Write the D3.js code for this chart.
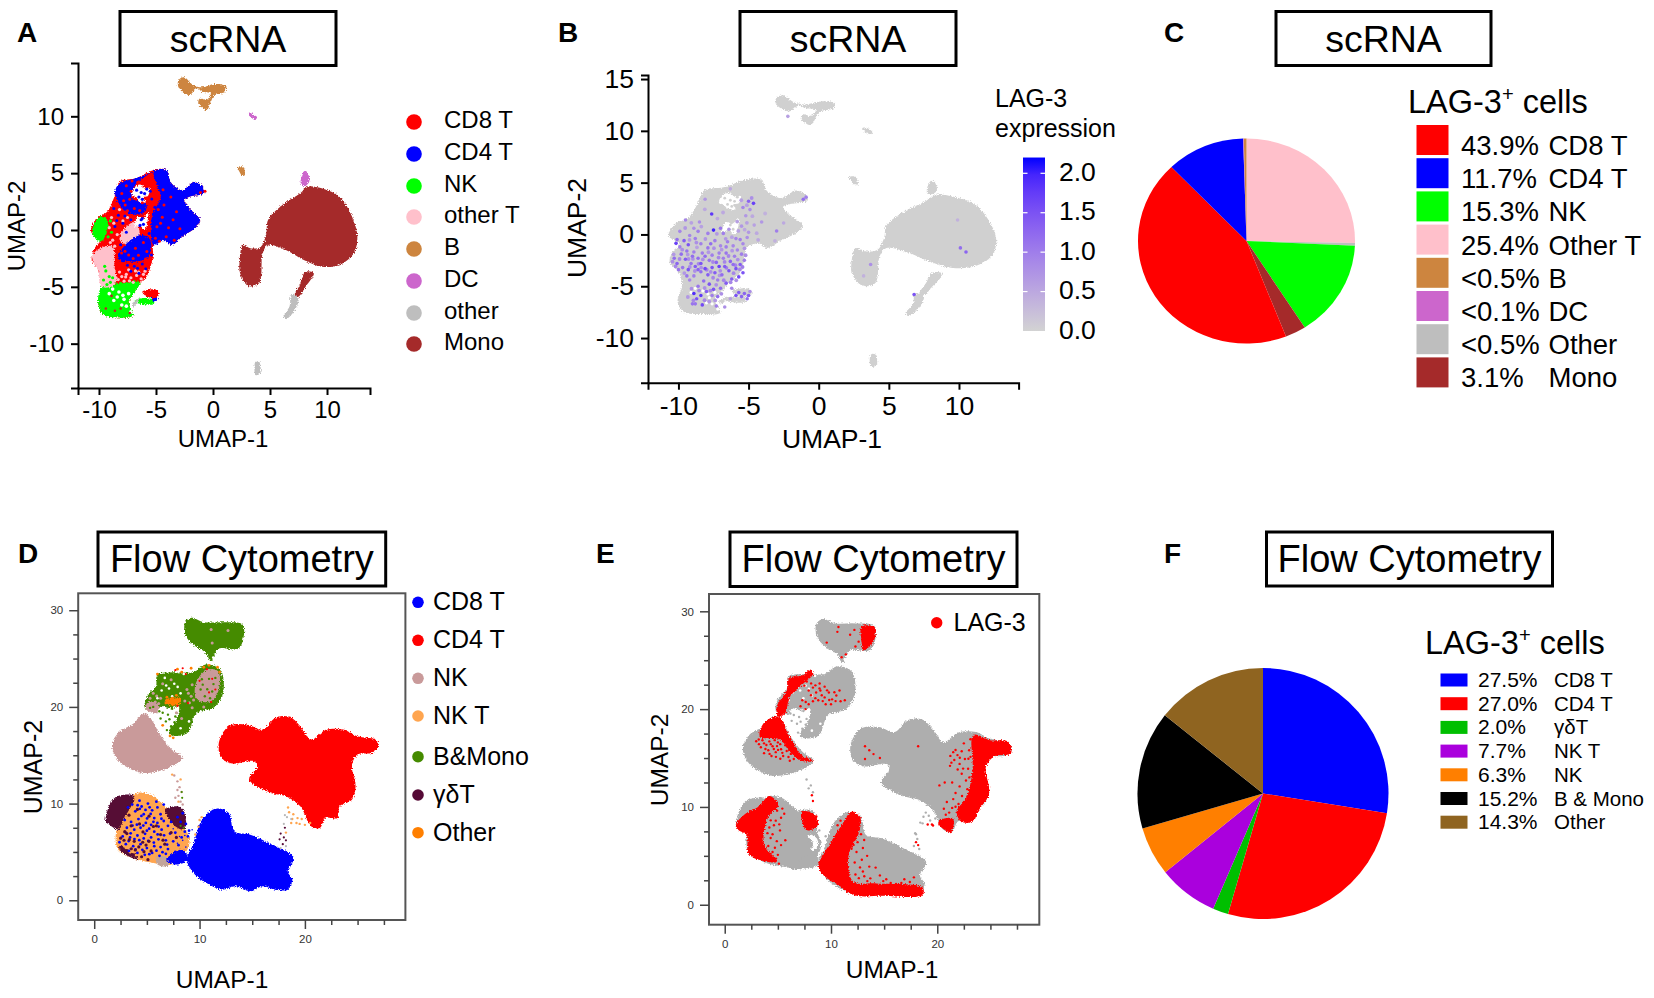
<!DOCTYPE html>
<html><head><meta charset="utf-8">
<script src="https://cdn.jsdelivr.net/npm/d3@7"></script>
<style>html,body{margin:0;background:#fff}svg{display:block;font-family:"Liberation Sans",Arial,sans-serif}</style>
</head><body><svg id="c" width="1654" height="998"></svg>
<script>
// ---------- scRNA legend + pie ----------
const scCategories=["CD8 T","CD4 T","NK","other T","B","DC","other","Mono"];
const scColors=["#ff0000","#0000ff","#00ff00","#ffc0cb","#cd853f","#cc66cc","#bebebe","#a52a2a"];
const scPieLabels=["43.9%","11.7%","15.3%","25.4%","<0.5%","<0.1%","<0.5%","3.1%"];
const scPieNames=["CD8 T","CD4 T","NK","Other T","B","DC","Other","Mono"];
const scPieOrder=[3,6,2,7,0,1,5,4];
const scPieValues=[43.9,11.7,15.3,25.4,0.4,0.1,0.4,3.1];
// ---------- flow legend + pie ----------
const flowCategories=["CD8 T","CD4 T","NK","NK T","B&Mono","γδT","Other"];
const flowColors=["#0000ff","#ff0000","#c99a9a","#ffa54f","#458b00","#560a36","#ff7f00"];
const flowPieLabels=["27.5%","27.0%","2.0%","7.7%","6.3%","15.2%","14.3%"];
const flowPieNames=["CD8 T","CD4 T","γδT","NK T","NK","B & Mono","Other"];
const flowPieValues=[27.5,27.0,2.0,7.7,6.3,15.2,14.3];
const flowPieColors=["#0000ff","#ff0000","#00bf00","#aa00dd","#ff7f00","#000000","#8f6420"];
// ---------- scRNA UMAP outlines (UMAP-1, UMAP-2) ----------
const tCellOutline=[[-8.18,4.25],[-6.77,4.55],[-5.2,5.28],[-4.11,5.28],[-3.64,4.11],[-2.7,3.52],[-1.6,4.25],[-.82,3.67],[-.82,3.23],[-2.07,2.93],[-2.54,2.64],[-2.07,1.91],[-1.13,.88],[-1.44,.29],[-2.7,-.59],[-3.64,-1.32],[-4.26,-.88],[-5.2,-1.32],[-5.27,-2.35],[-5.83,-4.11],[-6.46,-4.69],[-6.93,-5.57],[-7.4,-6.3],[-7.02,-7.57],[-8.34,-7.68],[-9.59,-7.48],[-10.06,-6.51],[-9.75,-4.99],[-9.91,-3.81],[-10.63,-2.64],[-10.38,-1.61],[-9.91,-.94],[-10.69,-.15],[-10.22,1.03],[-9.28,1.61],[-8.65,2.93]];
const greenBottom=[[-9.75,-4.99],[-8.03,-4.69],[-6.46,-4.55],[-6.93,-5.57],[-7.4,-6.3],[-7.02,-7.57],[-8.34,-7.68],[-9.59,-7.48],[-10.06,-6.51]];
const greenLeft=[[-10.38,.59],[-9.91,1.17],[-9.28,.88],[-9.44,-.59],[-9.91,-1.03],[-10.6,-.29]];
const pinkLeft=[[-10.6,-2.35],[-9.91,-1.61],[-8.81,-1.47],[-8.71,-3.23],[-9.28,-3.96],[-10.06,-3.52]];
const pinkMid=[[-9.9,-3.5],[-8.75,-3.2],[-8.6,-4.8],[-9.75,-5.0]];
const pinkCenter=[[-7.87,0],[-6.77,.73],[-6.46,-.44],[-7.4,-1.32],[-8.18,-.88]];
const blueRight=[[-5.2,5.13],[-4.11,5.28],[-3.64,4.11],[-2.7,3.52],[-1.6,4.25],[-.82,3.67],[-.82,3.23],[-2.07,2.93],[-2.54,2.64],[-2.07,1.91],[-1.13,.88],[-1.44,.29],[-2.7,-.59],[-3.64,-1.32],[-4.26,-.88],[-5.2,-1.32],[-5.36,1.17],[-4.58,2.93],[-4.9,3.9]];
const blueLeftTop=[[-8.18,4.11],[-6.77,4.55],[-5.2,5.13],[-5.99,4.69],[-6.93,3.81],[-7.08,2.79],[-5.83,2.2],[-6.14,1.47],[-7.4,1.47],[-8.18,2.2],[-8.59,3.37]];
const blueLower=[[-7.55,-1.17],[-6.3,-.44],[-5.49,-.88],[-5.67,-2.35],[-6.77,-2.79],[-8.34,-2.49]];
const scHoles=[[[-6.93,3.7],[-6.4,4],[-5.9,3.6],[-5.55,3.75],[-5.7,3],[-6.1,2.9],[-5.9,2.45],[-6.5,2.5],[-6.8,2.9],[-7.1,3]],[[-6.6,1.2],[-6.2,1],[-5.7,1.5],[-5.75,.7],[-6,0],[-6.4,.4],[-6.9,.3],[-6.8,.8]]];
const smallGreen=[[-6.93,-6.3],[-6.3,-6.01],[-5.2,-6.16],[-5.2,-6.51],[-6.3,-6.51]];
const smallRed=[[-6.2,-5.43],[-4.89,-5.28],[-4.82,-5.87],[-5.67,-5.92]];
const smallBlue=[[-5.3,-5.65],[-4.9,-5.6],[-4.9,-6.2],[-5.3,-6.2]];
const smallOther=[[-7.1,-6.5],[-6.5,-6.0],[-6.6,-6.3],[-7.0,-6.75]];
const monoMain=[[4.83,.88],[6.08,2.2],[7.65,3.23],[8.28,3.81],[9.53,3.67],[11.1,2.93],[12.2,1.17],[12.66,-.59],[12.35,-2.05],[11.1,-3.08],[9.53,-3.23],[7.96,-2.64],[6.39,-1.76],[4.83,-1.32],[4.36,-2.05],[4.04,-4.69],[3.1,-4.93],[2.38,-3.81],[2.32,-2.93],[2.63,-1.32],[3.26,-1.61],[4.2,-1.47],[4.67,-.29]];
const monoTail=[[8.12,-3.67],[8.84,-3.81],[8.12,-5],[7.49,-5.87],[7.18,-5.72],[7.65,-4.69]];
const otherTail=[[6.87,-5.72],[7.49,-6],[7.18,-7.04],[6.39,-7.86],[6.18,-7.62],[6.71,-6.74]];
const otherBottom=[[3.73,-11.58],[4.04,-11.58],[4.14,-12.6],[3.73,-12.76],[3.64,-12.02]];
const bCellTop=[[-3.01,13.2],[-2.54,13.43],[-1.76,12.76],[-.97,12.55],[.13,12.84],[1.13,12.67],[1.07,12.17],[.13,11.88],[-.19,11.29],[-.56,10.56],[-1.29,11.2],[-1.13,11.58],[-.56,11.44],[-.19,12.02],[-.97,12.17],[-1.38,12.46],[-2.07,11.88],[-2.7,12.17],[-3.07,12.67]];
const bCellSmall=[[2.16,5.51],[2.63,5.57],[2.79,4.84],[2.57,4.75],[2.32,5.13]];
const dcTop=[[3.1,10.26],[3.32,10.32],[3.82,9.91],[3.73,9.68],[3.26,9.97]];
const dcNeck=[[7.96,5.13],[8.21,5.13],[8.43,4.25],[7.96,3.87],[7.71,4.11]];
// ---------- scRNA single cells ----------
const redInBlue=[[-4.8,1.8],[-4.3,2.2],[-4.6,.6],[-3.9,.2],[-4.1,-.6],[-3.2,1.6],[-3.5,.9],[-2.9,.1],[-.7,3.4],[-1.1,3.3],[-4.9,3.1],[-3.7,2.9],[-7.6,3.9],[-8,3.2],[-7.3,2.7],[-7.7,2.2],[-6.9,1.9],[-7.5,1.7],[-6.6,4.2],[-7.1,4.3],[-6.2,2.4],[-6.1,-1.1],[-6.8,-1.6],[-7.4,-2.2],[-5.8,-1.9],[-7,-2.5],[-5.5,.1],[-4.7,-1],[-3.4,-.9],[-4.45,1.12],[-4.92,.28],[-5.05,-.72],[-4.38,3.55],[-7.84,2.58],[-6.43,1.72],[-7.18,3.41],[-6.54,-2.22],[-7.72,-1.88],[-5.92,-2.56],[-8.02,-2.03]];
const blueInRed=[[-5.1,2],[-5.5,3.4],[-5.3,.8],[-5.6,-.3],[-6.2,1],[-7.9,.6],[-8.3,1.3],[-8.6,.3],[-7.6,-.2],[-8.7,1.9],[-6.9,-3.2],[-6.2,-3],[-7.5,-3.1],[-7.9,-2.7],[-5.9,-3.4],[-5.4,-2.2],[-8.1,-1.3],[-6.5,-3.8],[-7.2,.9],[-5.37,2.73],[-5.22,1.36],[-8.44,.83],[-7.73,1.23],[-6.62,-3.37],[-7.21,-3.62],[-5.58,-1.42]];
const holeBlue=[[-6.7,3.5],[-6.3,3.3],[-6.5,2.9],[-6,3.2],[-6.2,2.7],[-6.3,.9],[-6.1,.5],[-6.4,.4],[-5.8,3.6]];
const pinkInRed=[[-7.6,-3.9],[-7.2,-4.2],[-6.7,-4],[-6.3,-4.3],[-8.2,-3.7],[-7.8,-4.5],[-7,-4.6],[-6.1,-3.9],[-8.5,-4.2],[-8,-4.1],[-7.4,-3.5],[-6.8,-3.6],[-8.8,-.9],[-8.4,-.4],[-7.9,.8],[-8.7,.6],[-9.1,.2],[-8.9,1.1],[-7.5,1.1],[-8.2,1.8],[-7.33,-4.47],[-6.52,-3.71],[-8.31,-4.36],[-7.66,-4.13],[-5.96,-3.62],[-8.62,-1.42],[-9,-1.1]];
const greenSpeck=[[-9.4,-3.6],[-9.1,-4.1],[-9.6,-4.4],[-9,-4.6],[-8.8,-4.2],[-9.3,-4.8],[-8.2,-5.1],[-7.5,-5],[-6.9,-4.9],[-9.3,.4],[-9,.8],[-9.2,-.6],[-8.9,-.2],[-6.6,-4.7],[-8.1,-4.7],[-9.5,-3.2]];
const whiteSpeck=[[-9.1,-5.6],[-8.4,-5.9],[-7.8,-6.1],[-7.6,-6.7],[-8,-6.6],[-8.7,-6.2],[-7.4,-5.6],[-8.8,-5.2],[-7.2,-7.2],[-8.25,-5.45],[-7.9,-5.75]];
const redInGreen=[[-9.4,-6.9],[-8.6,-7.1],[-8.1,-6.9],[-7.3,-7.3],[-8.9,-5.8]];
// ---------- LAG-3 expression per cell (UMAP-1, UMAP-2, level) ----------
const lagCells=[[-9.5,1.4,.9],[-8.9,.6,.8],[-9.9,.3,.9],[-9.2,-.1,.9],[-8.6,.3,1],[-7.5,.42,2],[-7.9,.1,1],[-7,.6,1.1],[-6.8,.1,1],[-6.4,.5,.8],[-5.5,.8,.7],[-5,.2,.7],[-4.6,.9,.6],[-10.1,-.5,1.2],[-10.17,-.86,1.7],[-9.6,-.6,1.4],[-9.3,-1,1.5],[-8.8,-.4,1],[-8.4,-.9,1],[-7.9,-1.3,1.1],[-7.4,-.6,1],[-7,-1.1,.9],[-6.5,-.7,1],[-5.9,-.4,.9],[-5.4,-.9,.9],[-5.1,-.3,.8],[-8.1,3.4,.7],[-7.63,1.97,1.8],[-8.5,1.2,.8],[-4.65,3,1.7],[-5,3.2,1.3],[-5.4,2.6,.9],[-5.2,1.8,.7],[-1.1,3.4,1.2],[-.9,3.6,1],[-3,.33,1],[-4.07,1.2,.7],[-2.5,1.1,.5],[-6.3,4.4,.5],[-4.9,2.4,.8],
[-10.3,-2.3,1.2],[-10.1,-2.8,1.3],[-9.8,-1.9,1.2],[-9.5,-2.4,1.4],[-9.7,-3.2,1.1],[-9.3,-3.4,1.5],[-9.1,-2.8,1.1],[-8.9,-1.7,1],[-8.6,-2.3,1.2],[-8.3,-1.8,1],[-8.8,-3.1,1.4],[-8.4,-2.8,1.5],[-8.1,-3.3,1.6],[-7.8,-2.5,1.1],[-7.6,-2,1],[-7.3,-2.7,1.3],[-7.1,-3.1,1.7],[-6.8,-2.3,1],[-6.6,-1.8,1.1],[-6.3,-2.6,1.3],[-6,-2.1,1],[-5.8,-1.5,.9],[-5.5,-1.9,1],[-5.6,-2.9,1.4],[-5.3,-2.5,1],[-5.9,-3.3,1.5],[-6.4,-3.5,1.5],[-6.9,-3.9,1.2],[-7.4,-3.7,1.4],[-7.9,-3.9,1.4],[-8.4,-3.6,1.2],[-8.9,-4,1],[-9.2,-4.4,.9],[-5.4,-3.7,1.5],[-5.7,-4.1,1.6],[-6.2,-4.3,1.4],[-6.6,-4.7,1.4],[-7.2,-4.4,1],[-7.8,-4.8,1.5],[-8.2,-4.5,1.2],[-8.6,-5,1.1],[-7.5,-5.3,1.5],[-7,-5.2,1.2],[-8,-5.5,1.4],[-8.4,-5.9,1.8],[-8.9,-5.7,1.9],[-8.7,-6.2,1.5],[-7.6,-5.9,1],[-7.2,-6,1.2],[-9,-6.7,1.1],[-8.3,-6.8,1.6],[-8.8,-6.7,1.1],[-7.3,-6.9,1],[-6.7,-7,.8],[-9.9,-1.2,1],[-7.7,-.9,1.2],[-6.6,-1.2,1],[-6.1,-1.1,.9],[-5.6,-.5,1],[-7.1,-1.8,1],[-8.1,-2.1,1.2],[-9.4,-1.6,1.1],[-9,-2.1,1.2],[-7.6,-3.2,1.5],[-6.1,-2.9,1.2],[-6.7,-3.1,1.4],[-8.6,-3.4,1.3],[-10,-3.4,1.1],[-9.4,-4,1.1],[-6.2,-5.2,.9],[-5.7,-5.6,1.4],[-5.3,-5.7,1.3],[-5.9,-5.9,1.5],[-5.5,-6,1.3],[-5,-5.9,1.4],[-5.1,-6.2,1.2],[-4.9,-5.5,.8],[-6.3,-6.2,.6],
[10.1,-1.3,1.2],[10.5,-1.7,1.3],[9.9,1.4,.4],[3.7,-2.9,.8],[6.8,-5.8,1.5],[-2.2,11.4,.6],[3.2,-4,.4]];
const lagCellsFaint=[[-9.73,-1.47,.8],[-9.21,-.53,.7],[-8.97,-2.36,.8],[-8.68,-1.24,.6],[-8.26,-2.41,.8],[-7.86,-1.72,.7],[-7.47,-1.33,.8],[-7.14,-2.23,.9],[-6.92,-1.47,.7],[-6.43,-2.08,.9],[-6.17,-1.57,.7],[-5.77,-2.43,.8],[-5.29,-1.34,.7],[-5.62,-3.38,.9],[-6.07,-3.74,.9],[-6.58,-3.22,1],[-7.02,-3.51,.8],[-7.53,-4.18,.9],[-7.98,-3.41,.9],[-8.38,-3.21,.8],[-8.83,-3.53,.8],[-9.19,-3.14,.8],[-9.58,-3.73,.7],[-10.21,-3.08,.9],[-10.42,-2.63,.8],[-9.92,-2.37,.9],[-9.34,-1.94,.7],[-10.34,-1.92,.7],[-6.28,-4.62,.9],[-6.77,-4.42,.9],[-7.31,-4.86,.8],[-7.72,-5.42,.9],[-8.13,-5.17,.8],[-8.53,-5.42,.9],[-9.07,-5.23,.8],[-9.33,-6.04,.7],[-8.93,-6.36,.9],[-8.14,-6.34,.9],[-7.81,-6.47,.7],[-6.94,-5.73,.8],[-7.38,-6.37,.7],[-9.52,.62,.7],[-9.08,1.12,.6],[-8.37,.76,.6],[-8.72,-.78,.8],[-8.08,-.44,.7],[-7.26,.06,.7],[-6.63,-.42,.7],[-6.19,-.26,.6],[-5.73,.34,.6],[-5.28,.46,.5],[-5.81,1.24,.6],[-5.12,1.12,.6],[-4.73,1.76,.5],[-4.42,.12,.5],[-7.22,1.53,.5],[-6.82,2.12,.5],[-8.12,2.42,.5],[-4.32,-.52,.5],[-5.52,3.3,.6],[-5.12,2.83,.6],[-4.78,3.52,.8],[-3.82,2.02,.4],[-3.12,-.62,.4],[-5.94,-2.97,.9],[-6.71,-2.65,.9],[-7.54,-2.66,.9],[-8.57,-2.84,.9],[-9.28,-2.37,.8],[-5.43,-3.14,1],[-5.21,-2.01,.8],[-5.88,-4.43,.8],[-7.07,-3.96,.7],[-7.7,-3.62,.8]];
// ---------- flow UMAP outlines ----------
const fRed=[[11.83,16.28],[12.78,18],[14.47,18.17],[16,17.66],[17.19,18.86],[18.54,18.97],[19.56,18],[20.58,16.62],[21.93,17.59],[23.63,17.66],[24.98,16.97],[26.68,16.62],[27.02,15.93],[26.34,15.24],[24.98,15.07],[24.47,13.86],[24.81,11.79],[24.47,10.41],[23.29,9.72],[23.12,8.52],[21.93,8.52],[21.42,7.48],[20.58,7.66],[19.56,9.72],[18.2,10.76],[16.85,11.1],[14.71,12.48],[15.49,13.86],[15.15,14.38],[13.12,14.14],[12.1,14.72]];
const fBlue=[[8.78,4.2],[9.39,5.76],[10.24,8.34],[11.59,9.48],[12.78,9.03],[13.29,7.14],[14.81,6.79],[16.85,5.76],[18.95,4.38],[18.37,3],[18.81,2.14],[18.37,1.1],[17.19,1.1],[16,1.45],[14.81,.93],[13.46,1.45],[12.1,1.1],[10.92,1.62],[9.73,2.48]];
const fNK=[[1.69,16.1],[2.27,17.31],[3.8,18.34],[4.64,19.31],[5.32,18.86],[6.34,16.97],[7.36,15.59],[8.37,14.72],[7.02,13.69],[4.64,13.17],[2.95,13.86],[2.1,14.72]];
const fTopGreen=[[8.61,28.69],[9.22,29.21],[10.41,28.76],[12.27,28.76],[14.07,28.52],[14.14,26.97],[13.63,26],[11.76,26],[11.08,24.72],[10.58,25.59],[9.39,26.45],[8.71,27.31]];
const fMidGreen=[[6,23.34],[7.69,23.59],[9.39,23.59],[10.58,24.38],[11.93,23.86],[12.27,21.62],[11.42,20],[9.73,19.38],[8.78,17.24],[7.19,17.14],[6.85,18.34],[6,19.38],[4.81,19.9],[5.05,21.1],[5.86,22.14]];
const fMidPink=[[9.66,22.48],[10.75,23.86],[11.76,23.69],[11.83,21.79],[11.08,20.59],[9.73,20.76]];
const fMidPinkLow=[[5.15,20.59],[6.17,20.07],[6,19.38],[4.92,19.72]];
const fHole=[[6.34,20.07],[7.2,19.85],[8.03,20.07],[7.69,18.34],[7.3,17.9],[7.02,17.31],[6.7,18.3],[6,18.86]];
const fMidOrange=[[6.68,20.69],[8.2,20.93],[8.03,20.24],[7,20.24]];
const fMaroonLeft=[[1.08,8.17],[1.93,10.59],[3.8,10.76],[2.78,8.34],[2.27,7.31],[1.42,7.83]];
const fTan=[[2.1,7.14],[2.78,8.34],[3.9,11],[5.32,10.93],[7.02,9.38],[8.54,7.66],[9.05,5.93],[8.37,4.55],[7.02,3.59],[5.66,3.86],[3.63,4.38],[2.27,5.24]];
const fMaroonRight=[[6.75,9.38],[8.2,9.66],[8.71,8.34],[8.54,7.31],[7.69,7.66],[7.02,8.52]];
const fMaroonLow=[[2.4,5.6],[4.1,4.55],[4.1,4.25],[2.5,5.1]];
const fBlueLow=[[6.85,4.2],[8.37,5.24],[8.88,4.2],[7.69,3.69]];
const fRosyLow=[[5.9,4.5],[7,4.4],[7,3.55],[6,3.7]];
const fGapHole=[[7.8,7.1],[8.5,7],[8.8,6.3],[8.55,5.7],[8.1,5.5],[8.3,6.3]];
// LAG-3 positive regions
const lagTopRight=[[12.88,28.42],[14.14,28.35],[13.98,26.86],[13.04,26],[12.88,26.86]];
const lagStreak=[[5.99,23.13],[7.4,23.48],[8.02,24.05],[8.34,23.65],[7.4,22.62],[6.14,21.26],[5.67,19.56],[5.05,19.22],[4.89,20.24],[5.83,21.94]];
const lagNK=[[3.7,18.6],[5.05,19.22],[6.14,17.17],[7.24,15.3],[8.4,14.68],[7.24,14.72],[6.14,15.64],[5.2,16.9],[3.32,17.17]];
const lagLeft=[[1.03,8.14],[2.07,9.4],[3.17,10.02],[4.2,11.11],[5.05,10.19],[4.11,8.99],[3.7,6.27],[4.89,4.4],[3.32,4.57],[2.23,5.25],[2.07,7.12],[1.29,7.63]];
const lagSmall=[[7.24,9.51],[8.34,9.34],[8.81,8.14],[7.71,7.63]];
const lagBottom=[[8.81,4.05],[9.91,6.27],[11,8.14],[11.94,9.51],[12.73,8.99],[12.66,7.46],[11.63,4.91],[12.1,2.35],[14.29,2.18],[18.62,1.77],[18.62,.99],[14.92,.92],[12.1,.99],[10.69,2.01],[9.28,3.03]];
const lagRight=[[23.39,17.34],[24.95,16.83],[26.68,16.66],[26.93,15.47],[25.42,15.2],[24.58,14.11],[24.89,11.38],[24.01,9.85],[23.23,8.48],[22.29,8.48],[21.82,9.51],[22.76,11.04],[23.32,13.76]];
const lagRightLow=[[20.25,8.65],[21.5,8.82],[21.35,7.46],[21.03,7.46],[20.09,8.31]];
// ---------- flow single cells ----------
const blueInTan=[[3.2,9.6],[3.9,9.2],[4.5,9.7],[5.1,10],[4.7,8.9],[5.5,9.3],[6,9.6],[6.3,8.9],[5.7,8.5],[4.2,8.4],[3.5,8.1],[4.9,8],[5.4,7.8],[6,8],[6.6,8.2],[7,7.7],[3.1,7.5],[3.8,7.3],[4.4,7.5],[5,7.2],[5.7,7.1],[6.4,7.3],[7.2,6.9],[7.7,7],[2.7,6.6],[3.4,6.5],[4.1,6.7],[4.7,6.4],[5.4,6.5],[6.1,6.3],[6.8,6.2],[7.5,6.1],[3,5.8],[3.7,5.6],[4.4,5.8],[5,5.4],[5.7,5.6],[6.3,5.5],[7,5.3],[3.3,5.1],[4.1,4.9],[4.8,4.7],[5.5,4.9],[6.2,4.6],[6.8,4.8],[7.7,5],[8,5.7],[8.3,6.5],[8.6,7.1],[3.6,9.9],[4.3,10.3],[5.9,10.2],[6.6,9.9],[2.9,8.3],[2.4,6],[7.3,8.1],[7.9,8.6],[8.2,8.1],[8.4,9],[8.7,7.9],[9,7.2],[8.9,6.6],
[4.12,9.83],[4.33,9.46],[4.87,9.34],[5.26,9.61],[4.48,8.72],[5.02,8.47],[5.36,8.93],[4.05,7.82],[3.63,7.73],[4.66,7.73],[5.22,7.41],[4.83,6.87],[4.28,6.22],[3.82,6.33],[3.46,6.92],[5.13,6.13],[5.66,5.97],[6.02,6.81],[6.63,6.72],[6.92,5.76],[6.48,4.98],[4.57,5.22],[3.92,5.27],[5.23,4.77],[5.91,5.13],[6.11,7.62],[5.62,8.11],[6.38,8.43],[3.27,6.12],[2.96,7.03]];
const maroonInTan=[[3.3,8.8],[4.1,9.4],[3.1,6.9],[3.8,6.1],[2.6,5.5],[3.2,4.8],[3.9,5.2],[4.6,6],[5.2,6.1],[4.5,4.5],[5.1,4.2],[5.9,7.7],[6.3,6.8],[6.7,5.8],[5.4,5.1],[2.9,7.1],[4.3,7.9],[7.3,7],[3.5,7.7],[5.2,8.7],[7.8,6.5],[2.83,6.21],[3.52,5.33],[4.23,5.52],[3.71,4.71],[4.72,5.03],[2.51,6.42],[5.62,7.63],[6.53,6.22],[4.92,5.71],[4.63,7.07],[3.33,6.27]];
const tanOnMaroon=[[3.02,5.42],[3.4,4.96],[3.95,4.68],[2.82,5.62],[3.62,5.02]];
const rosyInGreen=[[5.3,20.9],[5.8,20.5],[6.3,20.9],[5.6,21.4],[8.8,21.8],[9.2,21.1],[9.3,22.3],[8.6,20.6],[8.3,18.8],[7.8,19.4],[9.3,19.9],[10.4,20],[7.3,22.8],[6.5,22.4],[11.2,26.6],[12.7,27.9],[11.1,28],[5.52,20.33],[5.93,21.12],[6.12,20.35],[9.04,20.44],[8.94,21.42],[9.43,20.72]];
const greenInPink=[[10.3,22.3],[10.9,22.9],[11.2,21.6],[10.5,21.1],[10.1,21.8],[11,20.9],[11.5,23],[5.6,20],[5.3,19.9],[10.73,21.82],[11.32,22.36],[10.22,22.86]];
const whiteInGreen=[[7.1,21.9],[7.6,22.4],[6.4,21.7],[8.2,21.4],[6.7,23],[8,23.6],[8.5,23.4],[7.4,21.1],[9,18.5],[8.2,17.8],[6,20.9],[11.3,25.1],[6.83,22.21],[7.92,22.07]];
const orangeInGreen=[[7.9,23.9],[8.3,23.6],[10.4,24.1],[10.9,24.3],[11.7,24.1],[11.9,23.6],[7.2,17],[7.5,16.8],[6.5,18.1],[6.8,20.4],[7.8,21.2],[9.2,24],[6,23.4],[6.9,21],[7.4,20.9],[8.1,20.6]];
const redInGreenF=[[7.7,23.8],[8.4,24],[8.7,23.4],[10.7,23.9],[11.2,22.9],[10.9,21.5],[11.5,21.8],[11.1,20.5],[8.9,20.4],[10,22.7],[7.9,20.1]];
const holeGreenDots=[[6.5,19.4],[7,19.2],[7.4,19.8],[6.8,18.5],[7.3,18],[6.9,17.6],[6.3,18.8],[7.7,19],[7.62,18.42],[6.18,19.55],[7.14,18.72]];
const bridgeRosy=[[7.6,12.9],[7.9,12.3],[8.1,11.7],[8.3,11.2],[7.9,11.4],[8,10.8],[8.2,10.2],[7.7,10.6],[8.4,9.9]];
const bridgeOrange=[[7.4,13],[8.2,12.5],[8,10.2],[18.5,9.1],[18.9,8.9],[19.2,8],[18.7,8],[19.5,7.9],[20,7.8],[20.5,8],[18.2,7],[18.4,9.6],[10.2,8.6],[10,8.3],[9.9,7.6],[9.6,6.8],[18.8,8.4],[19.3,8.5],[19.7,8.4]];
const bridgeMaroon=[[17.7,6.9],[18,6.5],[17.9,5.8],[18.2,6.2],[17.6,6.3],[18.1,7.5]];
const bridgeGray=[[18.2,5.6],[17.7,5.4],[18.3,8.6],[18.7,8.4],[18,7.9],[18.1,8.8]];
const bridgeGreen=[[8.3,11.2],[8.35,10.6],[8.2,7.7],[8.5,7.5]];
const gapDots=[[7.7,6.9],[8.1,6.6],[8.4,6.2],[7.9,5.9],[8.7,5.5],[8.6,6.7],[9,6.9],[9.3,7.3],[7.5,7.4]];
const lagScatter=[[3.2,16.9],[3.7,16.5],[4.2,16.7],[3.4,16.1],[4.5,16.2],[5,16.6],[4.1,15.8],[4.8,15.6],[5.3,15.9],[5.7,16.3],[5.5,15.2],[6,15.1],[4.4,15.2],[6.5,14.9],[3.7,15.5],
[2.96,16.72],[3.55,16.82],[3.92,16.33],[4.33,16.42],[4.71,16.83],[5.22,16.42],[5.52,16.72],[3.83,15.92],[4.62,15.92],[5.02,15.83],[5.42,15.53],[5.83,15.72],[6.22,15.42],[6.62,15.23],[4.82,15.12],[5.23,14.92],[6.12,14.72],[4.22,15.42],[5.93,16.12],[3.22,16.42],[4.92,16.22],[6.32,16.02],[6.83,15.62],[7.02,15.12],
[7.5,22.4],[7.9,21.9],[8.3,22.2],[8.6,21.7],[9,21.9],[9.4,21.2],[9.8,21.7],[10.1,21],[10.5,21.4],[10.9,20.8],[9.5,20.5],[8.8,20.9],[10,20.5],[10.8,21.9],[11.3,20.9],[8.3,20.8],[7.9,20.5],[7.6,20],[7.3,20.9],[9.4,22.3],
[8.13,22.63],[8.53,22.43],[8.93,22.62],[9.13,21.42],[9.63,21.92],[10.32,21.72],[10.43,20.82],[9.83,20.93],[8.53,21.12],[8.12,21.42],[7.62,20.73],[7.13,20.3],[9.22,20.82],[8.92,22.12],[7.72,22.83],
[10.6,27.9],[9.6,26.8],[11,25.3],[11.4,25.6],[11.8,27.6],[12.6,26.9],[12.3,26.4],[12.2,28.1],[10.7,28.4],
[13.2,16.2],[13.6,15.8],[14,15.4],[13.2,14.9],[14.6,15],[18.2,16.2],
[21.5,15.6],[21.9,15.3],[22.3,15.7],[21.6,14.8],[22.1,14.4],[22.6,14.9],[21.2,14.2],[20.7,12.5],[21.4,12.5],[22.1,12.1],[21.5,10.8],[22,10.3],[20.9,10.5],[21.4,9.9],[20.8,9.2],[22.3,13.4],[22.7,12.7],[22.5,16.5],[23,15.8],[22.9,13.9],[20.2,12.2],[19.1,8.2],[19.6,8.1],
[21.23,15.22],[21.72,15.82],[22.12,15.03],[21.33,14.53],[21.92,13.82],[22.43,13.92],[21.72,11.42],[22.33,11.12],[20.62,9.82],[21.12,9.42],[21.72,10.02],[22.52,10.52],[22.21,9.62],[22.83,11.82],[23.02,13.02],[22.93,14.92],[23.13,15.12],[23.12,16.92],
[12.4,8.2],[12,6.8],[12.5,6.4],[13,5.8],[12.4,5.4],[13.4,5],[12.9,4.6],[13.6,3.9],[13,3.4],[14.2,3.8],[14.6,3],[15.2,2.6],[13.7,2.7],[16.9,2.6],[17.8,2.8],[12.3,3.1],[12,7.7],[11.6,7],[10.9,8.6],[11.3,6],
[12.23,4.32],[12.73,3.82],[13.13,2.92],[12.62,2.72],[11.93,5.72],[12.12,6.12],[13.42,2.42],[14.92,2.42],[15.62,2.22],[16.12,2.12],[16.62,2.22],[17.42,2.32],[11.32,7.72],[10.62,8.12],[11.62,8.32],[12.82,7.22],[13.12,6.62],
[3.7,8.5],[4.2,7.9],[4.5,7.2],[4.9,6.5],[4.1,6],[4.5,5.4],[5,5.1],[5.3,6.1],[5.7,6.6],[5.2,7.6],[4.8,8.6],[5.3,8.9],[5.6,9.3],[5.1,4.2],
[4.33,8.63],[4.63,8.13],[4.32,6.82],[4.02,7.32],[4.72,5.82],[4.23,5.22],[4.82,4.72],[5.42,9.83],[4.93,9.62],[5.13,8.22],[7.52,8.92],[7.92,8.32],[8.23,8.82],[8.62,9.02],
[8.3,10.6],[8.2,11.2],[18,6.4],[18.2,6.1],[19.5,8.2]];
const grayBits=[[7.7,12.8],[8.1,12.2],[8.3,11.5],[7.9,11.9],[18.4,8.4],[18.7,9],[19.2,9.1],[18,7.2],[17.8,6],[18.3,5.7],[7.5,7.8],[8.6,7.2],[9,6.4],[8.9,7.6],[9.5,7],[7.9,6.4],[18.62,8.32],[19.33,8.62],[19.82,8.82],[18.92,9.42],[18.12,6.72],[17.92,7.32]];
const colorTicks=[0,.5,1,1.5,2];

// ---------- scales ----------
const svg=d3.select("#c"), INK="#000";
const pA={x:d3.scaleLinear().domain([-11.84,13.77]).range([78,370]),y:d3.scaleLinear().domain([-13.9,14.69]).range([388,63])};
const pB={x:d3.scaleLinear().domain([-12.17,14.25]).range([648,1018.6]),y:d3.scaleLinear().domain([-14.31,15.39]).range([382.7,75])};
const pD={x:d3.scaleLinear().domain([-1.52,29.54]).range([78.2,405.4]),y:d3.scaleLinear().domain([-2.04,31.75]).range([920,593.3])};
const pE={x:d3.scaleLinear().domain([-1.48,29.6]).range([709,1039.3]),y:d3.scaleLinear().domain([-2.04,31.77]).range([924.7,594])};
const exprColor=d3.scaleLinear().domain([0,2.2]).range(["#d3d3d3","#0000ff"]).interpolate(d3.interpolateLab);

// ---------- filter giving point-cloud edges ----------
const defs=svg.append("defs");
const f=defs.append("filter").attr("id","rough").attr("x","-5%").attr("y","-5%").attr("width","110%").attr("height","110%");
f.append("feTurbulence").attr("type","fractalNoise").attr("baseFrequency",.75).attr("numOctaves",1).attr("seed",4).attr("result","n");
f.append("feDisplacementMap").attr("in","SourceGraphic").attr("in2","n").attr("scale",4.5).attr("xChannelSelector","R").attr("yChannelSelector","G");

// ---------- helpers ----------
function blobs(p,list,fill){
  const line=d3.line().x(d=>p.x(d[0])).y(d=>p.y(d[1])).curve(d3.curveCatmullRomClosed.alpha(.5));
  const g=svg.append("g").attr("filter","url(#rough)");
  g.selectAll("path").data(list).join("path").attr("d",line).attr("fill",fill);
}
function dots(p,list,fill,r){
  svg.append("g").selectAll("circle").data(list).join("circle")
    .attr("cx",d=>p.x(d[0])).attr("cy",d=>p.y(d[1])).attr("r",r).attr("fill",fill);
}
function txt(x,y,s,size,o={}){
  return svg.append("text").attr("x",x).attr("y",y).attr("font-size",size).attr("fill",o.fill||INK)
    .attr("text-anchor",o.anchor||"start").attr("font-weight",o.weight||"normal").text(s);
}
function title(x0,x1,y0,y1,s,size,base){
  svg.append("rect").attr("x",x0).attr("y",y0).attr("width",x1-x0).attr("height",y1-y0).attr("fill","#fff").attr("stroke","#000").attr("stroke-width",3);
  txt((x0+x1)/2,base,s,size,{anchor:"middle"});
}
function letter(x,y,s){txt(x,y,s,28,{weight:"bold"});}
function rotLabel(x,y,s,size){
  svg.append("text").attr("transform",`translate(${x},${y}) rotate(-90)`).attr("text-anchor","middle").attr("font-size",size).attr("fill",INK).text(s);
}
function axesSc(p,size,xTicks,yTicks){
  const hy=v=>String(v);
  const gx=svg.append("g").attr("transform",`translate(0,${p.y.range()[0]})`)
    .call(d3.axisBottom(p.x).tickValues(xTicks).tickSizeOuter(0).tickSize(7).tickPadding(6).tickFormat(hy));
  const gy=svg.append("g").attr("transform",`translate(${p.x.range()[0]},0)`)
    .call(d3.axisLeft(p.y).tickValues(yTicks).tickSizeOuter(0).tickSize(7).tickPadding(7).tickFormat(hy));
  [gx,gy].forEach(g=>{g.attr("font-family",null).attr("font-size",size);
    g.selectAll("path,line").attr("stroke","#000").attr("stroke-width",2);
    g.selectAll("text").attr("fill","#000");});
}
function axesFlow(p){
  const [x0,x1]=p.x.range(),[y0,y1]=p.y.range();
  svg.append("rect").attr("x",x0).attr("y",y1).attr("width",x1-x0).attr("height",y0-y1).attr("fill","none").attr("stroke","#555").attr("stroke-width",2);
  const maj=[0,10,20],majY=[0,10,20,30],minX=d3.range(0,28,2.5).filter(v=>v%10),minY=d3.range(0,30,2.5).filter(v=>v%10);
  const make=(ax,t,size,lab)=>ax.tickValues(t).tickSizeOuter(0).tickSize(size).tickPadding(6).tickFormat(lab?d3.format("d"):()=>"");
  [[d3.axisBottom(p.x),maj,9,1],[d3.axisBottom(p.x),minX,5,0]].forEach(a=>{
    const g=svg.append("g").attr("transform",`translate(0,${y0})`).call(make(a[0],a[1],a[2],a[3]));style(g);});
  [[d3.axisLeft(p.y),majY,9,1],[d3.axisLeft(p.y),minY,5,0]].forEach(a=>{
    const g=svg.append("g").attr("transform",`translate(${x0},0)`).call(make(a[0],a[1],a[2],a[3]));style(g);});
  function style(g){g.attr("font-family",null).attr("font-size",11.5);g.select(".domain").remove();
    g.selectAll("line").attr("stroke","#444").attr("stroke-width",1.5);g.selectAll("text").attr("fill","#333");}
}
function lagTitle(x,y,size){
  const t=txt(x,y,"LAG-3",size);
  t.append("tspan").attr("dy",-size*.36).attr("font-size",size*.62).text("+");
  t.append("tspan").attr("dy",size*.36).text(" cells");
}

// ---------- Panel A ----------
letter(17,42,"A"); title(120,336,11.5,65.5,"scRNA",37.5,51.5);
blobs(pA,[tCellOutline],"#ff0000");
blobs(pA,[greenBottom,greenLeft,smallGreen],"#00ff00");
blobs(pA,[pinkLeft,pinkMid,pinkCenter],"#ffc0cb");
blobs(pA,[blueRight,blueLeftTop,blueLower,smallBlue],"#0000ff");
blobs(pA,[smallRed],"#ff0000");
blobs(pA,scHoles,"#ffffff");
blobs(pA,[smallOther,otherTail,otherBottom],"#bebebe");
blobs(pA,[bCellTop,bCellSmall],"#cd853f");
blobs(pA,[dcTop,dcNeck],"#cc66cc");
blobs(pA,[monoMain,monoTail],"#a52a2a");
blobs(pA,[dcNeck],"#cc66cc");
dots(pA,greenSpeck,"#00ff00",1.6);
dots(pA,pinkInRed,"#ffc0cb",1.6);
dots(pA,whiteSpeck,"#ffffff",1.8);
dots(pA,redInBlue,"#ff0000",1.5);
dots(pA,blueInRed,"#0000ff",1.5);
dots(pA,holeBlue,"#0000ff",1.6);
dots(pA,redInGreen,"#c0202a",1.3);
axesSc(pA,24,[-10,-5,0,5,10],[-10,-5,0,5,10]);
rotLabel(25,226,"UMAP-2",24);
txt(223,447,"UMAP-1",24,{anchor:"middle"});
const legA=[122,154,186,217,249,281,313,344];
scCategories.forEach((c,i)=>{
  svg.append("circle").attr("cx",414).attr("cy",legA[i]).attr("r",7.8).attr("fill",scColors[i]);
  txt(444,legA[i]+6,c,24);
});

// ---------- Panel B ----------
letter(558,42,"B"); title(740,956,11.5,65.5,"scRNA",37.5,51.5);
blobs(pB,[tCellOutline,monoMain,monoTail,otherTail,otherBottom,bCellTop,bCellSmall,dcTop,dcNeck,smallGreen,smallRed,smallOther],"#d0d0d0");
blobs(pB,scHoles,"#ffffff");
dots(pB,whiteSpeck,"#ffffff",1.6);
dots(pB,holeBlue,"#d0d0d0",1.4);
svg.append("g").selectAll("circle").data(lagCellsFaint).join("circle")
  .attr("cx",d=>pB.x(d[0])).attr("cy",d=>pB.y(d[1])).attr("r",1.9).attr("fill",d=>exprColor(d[2]));
svg.append("g").selectAll("circle").data(lagCells).join("circle")
  .attr("cx",d=>pB.x(d[0])).attr("cy",d=>pB.y(d[1])).attr("r",1.8).attr("fill",d=>exprColor(d[2]));
axesSc(pB,26.5,[-10,-5,0,5,10],[-10,-5,0,5,10,15]);
rotLabel(586,228,"UMAP-2",26.5);
txt(832,448,"UMAP-1",26.5,{anchor:"middle"});
txt(995,107,"LAG-3",25); txt(995,137,"expression",25);
const cbY=d3.scaleLinear().domain([0,2]).range([331,173.3]);
const grad=defs.append("linearGradient").attr("id","cb").attr("x1",0).attr("x2",0).attr("y1",1).attr("y2",0);
d3.range(0,1.01,.1).forEach(t=>grad.append("stop").attr("offset",t).attr("stop-color",exprColor(t*2.2)));
svg.append("rect").attr("x",1023).attr("y",cbY(2.2)).attr("width",22).attr("height",cbY(0)-cbY(2.2)).attr("fill","url(#cb)");
colorTicks.forEach(v=>{
  if(v>0){[[1023,1027.5],[1040.5,1045]].forEach(s=>svg.append("line").attr("x1",s[0]).attr("x2",s[1]).attr("y1",cbY(v)).attr("y2",cbY(v)).attr("stroke","#fff").attr("stroke-width",1.2));}
  txt(1059,cbY(v)+7.5,v.toFixed(1),26.5);
});

// ---------- Panel C ----------
letter(1164,42,"C"); title(1276,1491,11.5,65.5,"scRNA",37.5,51.5);
const pieC=d3.pie().sort(null).value(i=>scPieValues[i])(scPieOrder);
const arcC=d3.arc().innerRadius(0).outerRadius(108.5);
svg.append("g").attr("transform","translate(1246.5,241) scale(1,.945)").selectAll("path").data(pieC).join("path").attr("d",arcC).attr("fill",d=>scColors[d.data]);
lagTitle(1408,112.5,32.5);
scPieLabels.forEach((l,i)=>{
  const y=125+i*33.2;
  svg.append("rect").attr("x",1416.5).attr("y",y).attr("width",32).attr("height",30).attr("fill",scColors[i]);
  txt(1461,y+30,l,27.5); txt(1548.5,y+30,scPieNames[i],27.5);
});

// ---------- Panel D ----------
letter(18,563,"D"); title(98,385.7,532,586,"Flow Cytometry",38,571.5);
blobs(pD,[fTopGreen,fMidGreen],"#458b00");
blobs(pD,[fMidPink,fMidPinkLow],"#c99a9a");
blobs(pD,[fHole,fGapHole],"#ffffff");
blobs(pD,[fMidOrange],"#ff7f00");
blobs(pD,[fNK],"#c99a9a");
blobs(pD,[fTan],"#ffa54f");
blobs(pD,[fMaroonLeft,fMaroonRight,fMaroonLow],"#560a36");
blobs(pD,[fRosyLow],"#c2a59a");
blobs(pD,[fBlueLow,fBlue],"#0000ff");
blobs(pD,[fRed],"#ff0000");
dots(pD,tanOnMaroon,"#ffa54f",1.4);
dots(pD,blueInTan,"#0000ff",1.4);
dots(pD,maroonInTan,"#560a36",1.6);
dots(pD,rosyInGreen,"#c99a9a",1.5);
dots(pD,greenInPink,"#458b00",1.2);
dots(pD,whiteInGreen,"#ffffff",1.3);
dots(pD,orangeInGreen,"#ff7f00",1.4);
dots(pD,redInGreenF,"#ff0000",1.1);
dots(pD,holeGreenDots,"#458b00",1.2);
dots(pD,bridgeRosy,"#c99a9a",1.2);
dots(pD,bridgeOrange,"#ffa54f",1.2);
dots(pD,bridgeMaroon,"#560a36",1.1);
dots(pD,bridgeGray,"#b8b8b8",1.1);
dots(pD,bridgeGreen,"#458b00",1.1);
dots(pD,gapDots,"#0000ff",.8);
axesFlow(pD);
rotLabel(42,767,"UMAP-2",25);
txt(222,988,"UMAP-1",24.5,{anchor:"middle"});
const legD=[602.3,640.3,678.3,716,756.7,795,832.7];
flowCategories.forEach((c,i)=>{
  svg.append("circle").attr("cx",418).attr("cy",legD[i]).attr("r",5.8).attr("fill",flowColors[i]);
  txt(433,legD[i]+8,c,25);
});

// ---------- Panel E ----------
letter(596,563,"E"); title(730,1017,532,586.5,"Flow Cytometry",38,571.5);
blobs(pE,[fTopGreen,fMidGreen,fNK,fTan,fMaroonLeft,fMaroonRight,fBlue,fBlueLow,fRed],"#aeaeae");
blobs(pE,[fHole,fGapHole],"#ffffff");
dots(pE,grayBits,"#aeaeae",1.2);
dots(pE,holeGreenDots,"#aeaeae",1.2);
dots(pE,whiteInGreen,"#ffffff",1.3);
blobs(pE,[lagTopRight,lagStreak,lagNK,lagLeft,lagSmall,lagBottom,lagRight,lagRightLow],"#ff0000");
dots(pE,lagScatter,"#ff0000",1.2);
axesFlow(pE);
rotLabel(668,760,"UMAP-2",24.5);
txt(892,977.5,"UMAP-1",24.5,{anchor:"middle"});
svg.append("circle").attr("cx",936.7).attr("cy",622.7).attr("r",5.7).attr("fill","#ff0000");
txt(953.5,630.5,"LAG-3",25);

// ---------- Panel F ----------
letter(1164,563,"F"); title(1266.5,1552.5,532,586,"Flow Cytometry",38,571.5);
const pieF=d3.pie().sort(null)(flowPieValues);
const arcF=d3.arc().innerRadius(0).outerRadius(125.5);
svg.append("g").attr("transform","translate(1263,793.5)").selectAll("path").data(pieF).join("path").attr("d",arcF).attr("fill",(d,i)=>flowPieColors[i]);
lagTitle(1425,654,32.5);
flowPieLabels.forEach((l,i)=>{
  const cy=680+i*23.7;
  svg.append("rect").attr("x",1440.5).attr("y",cy-6.5).attr("width",27).attr("height",13).attr("fill",flowPieColors[i]);
  txt(1478,cy+7,l,21); txt(1554,cy+7,flowPieNames[i],20.5);
});
</script></body></html>
